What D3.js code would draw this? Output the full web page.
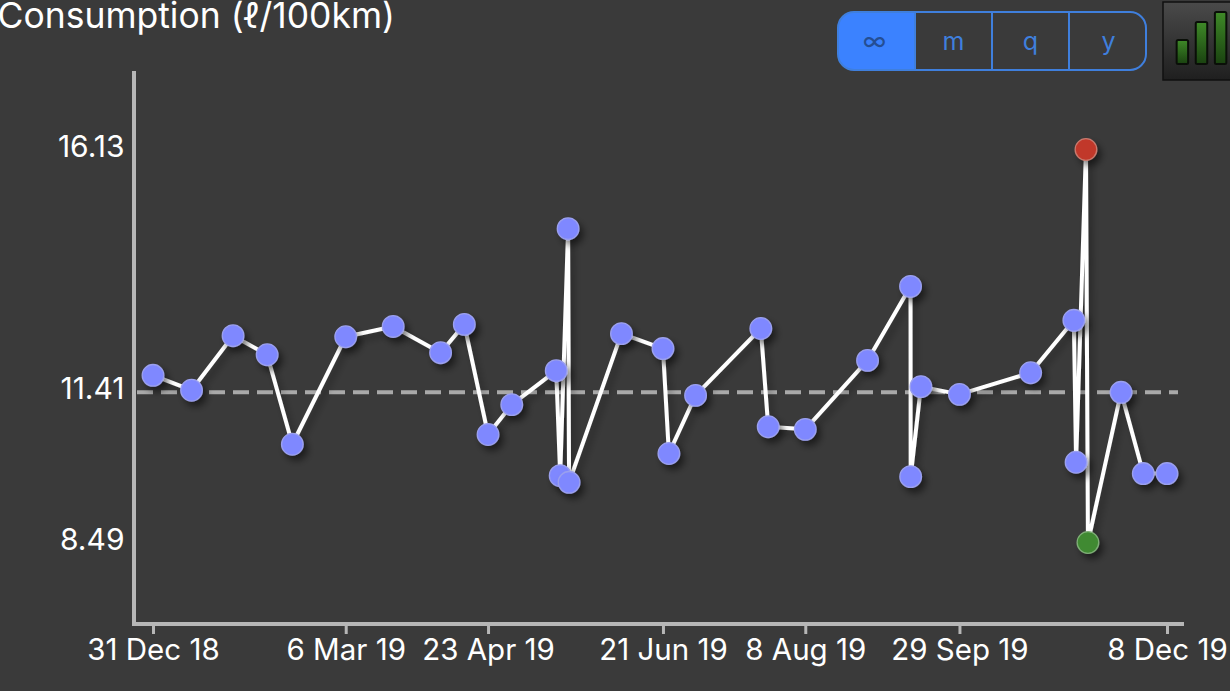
<!DOCTYPE html>
<html><head><meta charset="utf-8">
<script src="https://cdnjs.cloudflare.com/ajax/libs/d3/7.8.5/d3.min.js"></script>
<style>html,body{margin:0;padding:0;background:#3a3a3a;overflow:hidden}svg{display:block}text{font-family:Inter,Roboto,sans-serif}</style>
</head><body><svg id="c" width="1230" height="691"></svg>
<script>
const dates=["2018-12-31","2019-01-13","2019-01-27","2019-02-07T12:00","2019-02-16","2019-03-06","2019-03-22","2019-04-07","2019-04-15","2019-04-23","2019-05-01","2019-05-16","2019-05-17T08:00","2019-05-20","2019-05-20T08:00","2019-06-07","2019-06-21","2019-06-23","2019-07-02","2019-07-24","2019-07-26T12:00","2019-08-08","2019-08-29","2019-09-12T12:00","2019-09-12T13:00","2019-09-16","2019-09-29","2019-10-23","2019-11-06T14:00","2019-11-07T08:00","2019-11-10T16:00","2019-11-11T08:00","2019-11-22T12:00","2019-11-30","2019-12-08"];
const consumption=[11.74,11.45,12.51,12.14,10.40,12.49,12.69,12.18,12.73,10.59,11.17,11.83,9.79,14.59,9.66,12.55,12.26,10.22,11.35,12.65,10.74,10.69,12.03,13.47,9.77,11.52,11.37,11.79,12.81,10.05,16.13,8.49,11.41,9.83,9.83];
const yTicks=[8.49,11.41,16.13];
const xTickDates=["2018-12-31","2019-03-06","2019-04-23","2019-06-21","2019-08-08","2019-09-29","2019-12-08"];
const xTickLabels=["31 Dec 18","6 Mar 19","23 Apr 19","21 Jun 19","8 Aug 19","29 Sep 19","8 Dec 19"];
const ranges=["∞","m","q","y"];
const iconBars=[1.34,2.34,2.9];
const average=11.41;
const title="Consumption (ℓ/100km)";

const parse=s=>new Date(s.length>10?s+":00Z":s+"T00:00:00Z");
const svg=d3.select("#c");
const x=d3.scaleUtc().domain([parse("2018-12-31"),parse("2019-12-08")]).range([153,1167]);
const y=d3.scaleLinear().domain([8.49,16.13]).range([542.5,149.5]);
const defs=svg.append("defs");
const mk=(id,dx,dy,sd,op)=>{const f=defs.append("filter").attr("id",id).attr("x","-60%").attr("y","-60%").attr("width","220%").attr("height","220%");
 f.append("feDropShadow").attr("dx",dx).attr("dy",dy).attr("stdDeviation",sd).attr("flood-color","#000").attr("flood-opacity",op);};
mk("ps",4,5,3.5,.5);
const fl=defs.append("filter").attr("id","ls").attr("filterUnits","userSpaceOnUse").attr("x",0).attr("y",0).attr("width",1230).attr("height",691);
fl.append("feDropShadow").attr("dx",4).attr("dy",5).attr("stdDeviation",3.5).attr("flood-color","#000").attr("flood-opacity",.3);

svg.append("text").attr("x",395).attr("y",28).attr("text-anchor","end").attr("fill","#fff").attr("font-size",35.5).text(title);

// axes
const axisColor="#b6b6b6";
const gx=svg.append("g").attr("transform","translate(0,624)").call(
 d3.axisBottom(x).tickValues(xTickDates.map(parse)).tickFormat((d,i)=>xTickLabels[i]).tickSizeOuter(0).tickSize(10).tickPadding(3));
gx.select(".domain").remove();
gx.selectAll("line").attr("stroke",axisColor).attr("stroke-width",3);
gx.selectAll("text").attr("fill","#fff").attr("font-size",29.5).attr("dy","0.95em").attr("y",8);
const gy=svg.append("g").attr("transform","translate(124.5,-3)").call(
 d3.axisLeft(y).tickValues(yTicks).tickFormat(d3.format(".2f")).tickSize(0).tickPadding(0));
gy.select(".domain").remove();
gy.selectAll("text").attr("fill","#fff").attr("font-size",30);
svg.append("path").attr("d",d3.line()([[134,71],[134,624],[1184,624]])).attr("fill","none").attr("stroke",axisColor).attr("stroke-width",4);

// average
svg.append("line").attr("x1",137).attr("x2",1178).attr("y1",y(average)).attr("y2",y(average)).attr("stroke","#a9a9a9").attr("stroke-width",4).attr("stroke-dasharray","16 8");

// data
const data=dates.map((d,i)=>({d:parse(d),v:consumption[i]}));
const vmax=d3.max(consumption),vmin=d3.min(consumption);
svg.append("path").datum(data).attr("fill","none").attr("stroke","#fff").attr("stroke-width",4).attr("stroke-linejoin","round").attr("filter","url(#ls)")
 .attr("d",d3.line().x(d=>x(d.d)).y(d=>y(d.v)));
svg.append("g").selectAll("circle").data(data).join("circle")
 .attr("cx",d=>x(d.d)).attr("cy",d=>y(d.v)).attr("r",10.8).attr("stroke-width",1.3).attr("filter","url(#ps)")
 .attr("fill",d=>d.v===vmax?"#c1392b":d.v===vmin?"#3f8a33":"#7f88ff")
 .attr("stroke",d=>d.v===vmax?"#c97a6e":d.v===vmin?"#7fae77":"#9ba0ee");

// segmented control
const seg=d3.scaleBand().domain(ranges).range([838,1146]);
const g=svg.append("g");
g.append("path").attr("fill","#3b82ff").attr("d",`M915 12H854a16 16 0 0 0-16 16V54a16 16 0 0 0 16 16H915Z`);
g.append("rect").attr("x",838).attr("y",12).attr("width",308).attr("height",58).attr("rx",16).attr("fill","none").attr("stroke","#3f7fdd").attr("stroke-width",2);
ranges.slice(1).forEach(r=>g.append("line").attr("x1",seg(r)).attr("x2",seg(r)).attr("y1",12).attr("y2",70).attr("stroke","#3f7fdd").attr("stroke-width",2));
g.selectAll("text").data(ranges).join("text").attr("x",(r,i)=>seg(r)+seg.bandwidth()/2+[-2,0,0,1][i]).attr("y",50).attr("text-anchor","middle")
 .attr("font-size",25).attr("fill",(r,i)=>i?"#3f7fdd":"#244e94").text(r=>r);

// icon
const grad=defs.append("linearGradient").attr("id","ic").attr("x1",0).attr("y1",0).attr("x2",0).attr("y2",1);
grad.append("stop").attr("offset",0).attr("stop-color","#4a4a4a");
grad.append("stop").attr("offset",1).attr("stop-color","#1f1f1f");
const bg=defs.append("linearGradient").attr("id","br").attr("x1",0).attr("y1",0).attr("x2",0).attr("y2",1);
bg.append("stop").attr("offset",0).attr("stop-color","#3f8a28");
bg.append("stop").attr("offset",1).attr("stop-color","#1a4210");
svg.append("rect").attr("x",1163).attr("y",2).attr("width",80).attr("height",78).attr("fill","url(#ic)").attr("stroke","#111").attr("stroke-width",1.5);
const bx=d3.scaleBand().domain(iconBars).range([1169,1234]).padding(.4);
const by=d3.scaleLinear().domain([0,2.9]).range([64,12]);
svg.append("g").selectAll("rect").data(iconBars).join("rect").attr("x",d=>bx(d)).attr("y",d=>by(d)).attr("width",bx.bandwidth()).attr("height",d=>64-by(d)).attr("rx",1.5).attr("fill","url(#br)").attr("stroke","#0a0f08").attr("stroke-width",2);
</script></body></html>
